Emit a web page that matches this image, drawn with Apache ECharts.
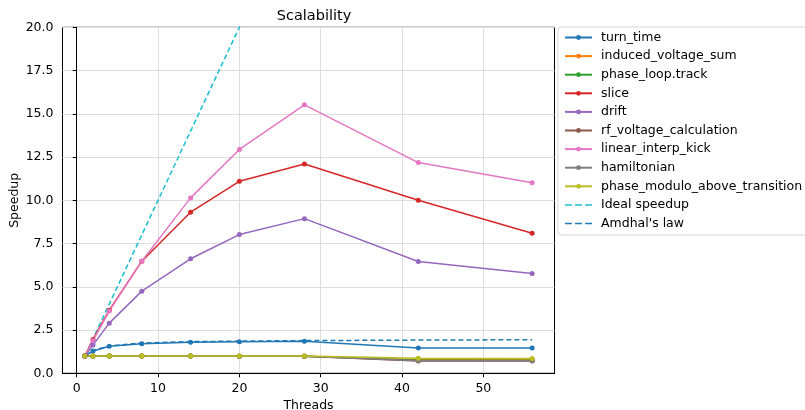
<!DOCTYPE html>
<html>
<head>
<meta charset="utf-8">
<script src="https://cdn.jsdelivr.net/npm/echarts@6/dist/echarts.min.js"></script>
<style>
  html, body { margin: 0; padding: 0; background: #fff; }
  #chart { width: 805px; height: 410px; }
</style>
</head>
<body>
<div id="chart"></div>
<script>
var threads = [1, 2, 4, 8, 14, 20, 28, 42, 56];

var turnTime = [1.0, 1.29, 1.56, 1.71, 1.79, 1.83, 1.85, 1.46, 1.46];
var inducedVoltageSum = [1.0, 1.0, 1.0, 1.0, 1.0, 0.99, 0.99, 0.79, 0.78];
var phaseLoopTrack = [1.0, 1.0, 1.0, 1.0, 1.0, 0.99, 0.99, 0.76, 0.76];
var slice = [1.0, 1.96, 3.65, 6.48, 9.31, 11.1, 12.1, 10.0, 8.1];
var drift = [1.0, 1.63, 2.9, 4.75, 6.62, 8.02, 8.94, 6.46, 5.77];
var rfVoltageCalculation = [1.0, 1.0, 1.0, 1.0, 1.0, 0.99, 0.99, 0.71, 0.71];
var linearInterpKick = [1.0, 1.9, 3.6, 6.48, 10.14, 12.94, 15.52, 12.18, 11.02];
var hamiltonian = [1.0, 1.0, 1.0, 1.0, 1.0, 0.99, 0.99, 0.73, 0.73];
var phaseModulo = [1.0, 1.0, 1.0, 1.0, 1.0, 1.0, 1.0, 0.87, 0.86];
var idealSpeedup = [1, 2, 4, 8, 14, 20, 28, 42, 56];
var amdahl = [1.0, 1.32, 1.58, 1.75, 1.83, 1.86, 1.89, 1.92, 1.94];

var xTicks = [0, 10, 20, 30, 40, 50];

var measured = [
  ["turn_time", turnTime, "#1f77b4"],
  ["induced_voltage_sum", inducedVoltageSum, "#ff7f0e"],
  ["phase_loop.track", phaseLoopTrack, "#2ca02c"],
  ["slice", slice, "#d62728"],
  ["drift", drift, "#9467bd"],
  ["rf_voltage_calculation", rfVoltageCalculation, "#8c564b"],
  ["linear_interp_kick", linearInterpKick, "#e377c2"],
  ["hamiltonian", hamiltonian, "#7f7f7f"],
  ["phase_modulo_above_transition", phaseModulo, "#bcbd22"]
];

function pairs(ys) {
  return threads.map(function (t, i) { return [t, ys[i]]; });
}

var series = measured.map(function (m) {
  return {
    name: m[0],
    type: "line",
    data: pairs(m[1]),
    symbol: "circle",
    symbolSize: 5,
    color: m[2],
    lineStyle: { width: 1.5, color: m[2] },
    itemStyle: { color: m[2] },
    emphasis: { disabled: true },
    z: 3
  };
});
series.push({
  name: "Ideal speedup",
  type: "line",
  data: pairs(idealSpeedup),
  symbol: "none",
  color: "#17becf",
  lineStyle: { width: 1.5, type: [5, 3], color: "#17becf" },
  emphasis: { disabled: true },
  z: 2
});
series.push({
  name: "Amdhal's law",
  type: "line",
  data: pairs(amdahl),
  symbol: "none",
  color: "#1f77b4",
  lineStyle: { width: 1.5, type: [5, 3], color: "#1f77b4" },
  emphasis: { disabled: true },
  z: 2
});

// dashed legend icon (tiny corner dots keep the box 30x6)
var dashIcon = "path://M0,0h0.01v0.01h-0.01z M0,5.99h0.01v0.01h-0.01z " +
  "M0,2.2h7v1.6h-7z M10.5,2.2h7v1.6h-7z M21,2.2h7v1.6h-7z";

var legendData = series.map(function (s) {
  if (s.symbol === "none") return { name: s.name, icon: dashIcon };
  return { name: s.name };
});

var font = "DejaVu Sans";
var chart = echarts.init(document.getElementById("chart"));
chart.setOption({
  animation: false,
  backgroundColor: "#fff",
  textStyle: { fontFamily: font, color: "#000" },
  title: {
    text: "Scalability",
    left: 309,
    top: 4,
    textAlign: "center",
    textStyle: { fontFamily: font, fontSize: 14.5, fontWeight: "normal", color: "#000" }
  },
  grid: {
    left: 62.5, top: 27.3, width: 492, height: 346,
    outerBoundsMode: "none",
    containLabel: false,
    show: true, borderColor: "#000", borderWidth: 1
  },
  legend: {
    orient: "vertical",
    left: 558,
    top: 27,
    itemWidth: 27,
    itemHeight: 6,
    itemGap: 5.6,
    padding: [4, 5, 5, 6],
    borderColor: "#d6d6d6",
    borderWidth: 1,
    borderRadius: 3,
    textStyle: { fontFamily: font, fontSize: 12.5, color: "#000", padding: [0, 0, 0, 4] },
    data: legendData
  },
  xAxis: {
    type: "value",
    min: -1.75,
    max: 58.75,
    name: "Threads",
    nameLocation: "middle",
    nameGap: 26,
    nameMoveOverlap: false,
    nameTextStyle: { fontFamily: font, fontSize: 12.5, color: "#000" },
    axisLine: { show: true, onZero: false, lineStyle: { color: "#000" } },
    axisTick: { show: true, length: 4, customValues: xTicks, lineStyle: { color: "#000" } },
    axisLabel: { customValues: xTicks, fontFamily: font, fontSize: 12.5, color: "#000", margin: 9 },
    splitLine: { show: true, lineStyle: { color: "#dedede", width: 1 } }
  },
  yAxis: {
    type: "value",
    min: 0,
    max: 20,
    interval: 2.5,
    name: "Speedup",
    nameLocation: "middle",
    nameGap: 41,
    nameMoveOverlap: false,
    nameTextStyle: { fontFamily: font, fontSize: 12.5, color: "#000" },
    axisLine: { show: true, lineStyle: { color: "#000" } },
    axisTick: { show: true, length: 4, lineStyle: { color: "#000" } },
    axisLabel: {
      fontFamily: font, fontSize: 12.5, color: "#000", margin: 9,
      formatter: function (v) { return v.toFixed(1); }
    },
    splitLine: { show: true, lineStyle: { color: "#dedede", width: 1 } }
  },
  series: series
});
</script>
</body>
</html>
